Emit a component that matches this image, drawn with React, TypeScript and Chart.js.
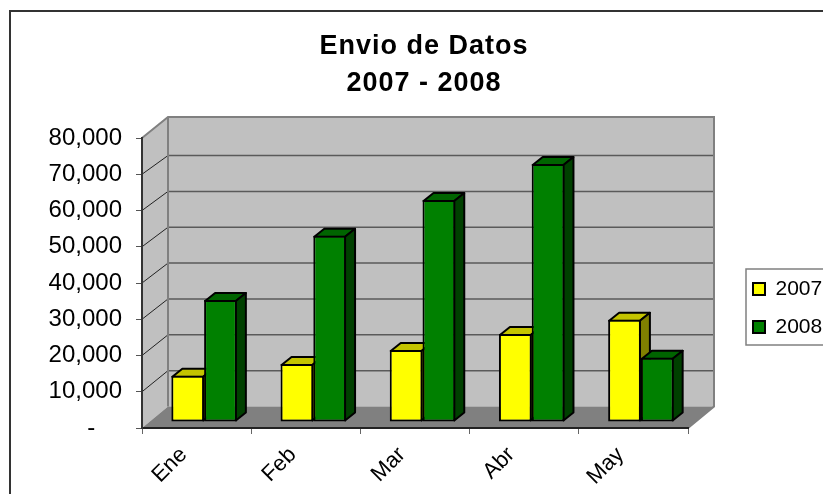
import React, { useEffect, useRef } from "react";
import { Chart, registerables } from "chart.js";

Chart.register(...registerables);

const categories = ["Ene", "Feb", "Mar", "Abr", "May"];
const values2007 = [12770, 16000, 19860, 24280, 28220];
const values2008 = [33660, 51390, 61240, 71170, 17740];
const yTickStep = 10000;
const yMax = 80000;

const FONT = "'Liberation Sans', Arial, sans-serif";
const WALL_DX = 26;
const WALL_DY = -21.5;
const WALL_TOP_DY = -21;
const BACK_SCALE = 0.989;
const BAR_SHIFT_X = 7.5;
const BAR_SHIFT_Y = -6;
const BAR_DX = 10;
const BAR_DY = -8;

const shades = [
  { top: "#c4c400", side: "#808000" },
  { top: "#006400", side: "#004000" },
];

function poly(ctx: CanvasRenderingContext2D, pts: number[][], fill: string, stroke?: string, lw = 2) {
  ctx.beginPath();
  pts.forEach((p, i) => (i ? ctx.lineTo(p[0], p[1]) : ctx.moveTo(p[0], p[1])));
  ctx.closePath();
  ctx.fillStyle = fill;
  ctx.fill();
  if (stroke) {
    ctx.strokeStyle = stroke;
    ctx.lineWidth = lw;
    ctx.lineJoin = "round";
    ctx.stroke();
  }
}

const excelScene = {
  id: "excelScene",
  beforeLayout(chart: any) {
    const l = chart.legend;
    if (l && !l.__wrapped) {
      l.__wrapped = true;
      const fit = l.fit;
      l.fit = function () {
        fit.call(this);
        this.width = 135;
      };
    }
  },
  afterUpdate(chart: any) {
    const l = chart.legend;
    l.left = 736;
    l.right = 823;
    l.top = 261.5;
    l.bottom = 440;
    const t = chart.titleBlock;
    t.left = 25;
    t.right = 823;
    if (!t.__wrapped) {
      t.__wrapped = true;
      const draw = t.draw;
      t.draw = function () {
        const c = this.ctx;
        c.letterSpacing = "1px";
        draw.call(this);
        c.letterSpacing = "0px";
      };
    }
  },
  beforeDraw(chart: any) {
    const { ctx, scales } = chart;
    const { x, y } = scales;
    const L = x.left;
    const R = x.right;
    const y0 = y.getPixelForValue(0);
    const yT = y.getPixelForValue(yMax);
    const backBottom = y0 + WALL_DY;
    const backTop = yT + WALL_TOP_DY;
    ctx.save();
    // outer frame
    ctx.strokeStyle = "#333333";
    ctx.lineWidth = 2;
    ctx.beginPath();
    ctx.moveTo(10, 500);
    ctx.lineTo(10, 11);
    ctx.lineTo(823, 11);
    ctx.stroke();
    // side wall
    poly(ctx, [[L, yT], [L + WALL_DX, backTop], [L + WALL_DX, backBottom], [L, y0]], "#c0c0c0");
    // back wall
    poly(ctx, [[L + WALL_DX, backTop], [R + WALL_DX, backTop], [R + WALL_DX, backBottom], [L + WALL_DX, backBottom]], "#c0c0c0");
    // gridlines
    for (let v = yTickStep; v < yMax; v += yTickStep) {
      const py = y.getPixelForValue(v);
      const by = backBottom - (y0 - py) * BACK_SCALE;
      ctx.strokeStyle = "#5a5a5a";
      ctx.lineWidth = 1.5;
      ctx.beginPath();
      ctx.moveTo(L + WALL_DX, by);
      ctx.lineTo(R + WALL_DX, by);
      ctx.stroke();
      ctx.strokeStyle = "#222222";
      ctx.lineWidth = 1;
      ctx.beginPath();
      ctx.moveTo(L, py);
      ctx.lineTo(L + WALL_DX, by);
      ctx.stroke();
    }
    // floor
    poly(ctx, [[L, y0], [L + WALL_DX, backBottom], [R + WALL_DX, backBottom], [R, y0]], "#808080");
    // wall edges
    ctx.strokeStyle = "#808080";
    ctx.lineWidth = 2;
    ctx.beginPath();
    ctx.moveTo(L, yT);
    ctx.lineTo(L + WALL_DX, backTop);
    ctx.lineTo(R + WALL_DX, backTop);
    ctx.lineTo(R + WALL_DX, backBottom);
    ctx.lineTo(R, y0);
    ctx.moveTo(L + WALL_DX, backTop);
    ctx.lineTo(L + WALL_DX, backBottom);
    ctx.stroke();
    // legend frame
    ctx.strokeStyle = "#808080";
    ctx.lineWidth = 1.5;
    ctx.strokeRect(746, 269, 90, 76);
    ctx.restore();
  },
  beforeDatasetsDraw(chart: any) {
    const { ctx } = chart;
    ctx.save();
    ctx.translate(BAR_SHIFT_X, BAR_SHIFT_Y);
    // extruded faces, taken from the bars the library laid out
    [0, 1].forEach((d) => {
      chart.getDatasetMeta(d).data.forEach((bar: any) => {
        const { x, y, base, width } = bar.getProps(["x", "y", "base", "width"], true);
        const l = x - width / 2 + 1;
        const r = x + width / 2 - 1;
        const t = y + 1;
        const b = base - 1;
        poly(ctx, [[l, t], [l + BAR_DX, t + BAR_DY], [r + BAR_DX, t + BAR_DY], [r, t]], shades[d].top, "#000000");
        poly(ctx, [[r, t], [r + BAR_DX, t + BAR_DY], [r + BAR_DX, b + BAR_DY], [r, b]], shades[d].side, "#000000");
      });
    });
  },
  afterDatasetsDraw(chart: any) {
    chart.ctx.restore();
  },
};

export default function App() {
  const ref = useRef<HTMLCanvasElement>(null);
  useEffect(() => {
    const chart = new Chart(ref.current as HTMLCanvasElement, {
      type: "bar",
      data: {
        labels: categories,
        datasets: [
          { label: "2007", data: values2007, backgroundColor: "#ffff00", borderColor: "#000000", borderWidth: 2, borderSkipped: false },
          { label: "2008", data: values2008, backgroundColor: "#008000", borderColor: "#000000", borderWidth: 2, borderSkipped: false },
        ],
      },
      options: {
        responsive: false,
        animation: false,
        events: [],
        layout: { padding: 0 },
        datasets: { bar: { categoryPercentage: 0.6, barPercentage: 1 } },
        scales: {
          x: {
            afterFit: (s: any) => { s.height = 66; },
            grid: { drawOnChartArea: false, drawTicks: true, tickLength: 6, color: "#666666", offset: true },
            border: { color: "#222222", width: 2 },
            ticks: {
              color: "#000000",
              font: { family: FONT, size: 22 },
              minRotation: 45,
              maxRotation: 45,
              padding: 8,
              labelOffset: -13,
              autoSkip: false,
            },
          },
          y: {
            min: 0,
            max: yMax,
            afterFit: (s: any) => { s.width = 142; },
            grid: { drawOnChartArea: false, drawTicks: true, tickLength: 6, color: "#555555" },
            border: { color: "#333333", width: 2 },
            ticks: {
              stepSize: yTickStep,
              color: "#000000",
              padding: 14,
              font: { family: FONT, size: 24 },
              callback: (v: any) => (v === 0 ? "-    " : Number(v).toLocaleString("en-US")),
            },
          },
        },
        plugins: {
          title: {
            display: true,
            text: ["Envio de Datos", "2007 - 2008"],
            color: "#000000",
            font: { family: FONT, size: 27, weight: "bold", lineHeight: 37 / 27 },
            padding: { top: 28.5, bottom: 35.5 },
          },
          legend: {
            display: true,
            position: "right",
            align: "start",
            labels: {
              color: "#000000",
              font: { family: FONT, size: 21 },
              boxWidth: 12,
              boxHeight: 12,
              padding: 17,
            },
          },
          tooltip: { enabled: false },
        },
      } as any,
      plugins: [excelScene],
    });
    return () => chart.destroy();
  }, []);
  return (
    <div style={{ position: "fixed", left: 0, top: 0, width: 823, height: 494, background: "#fff", overflow: "hidden" }}>
      <canvas ref={ref} width={823} height={494} style={{ display: "block" }} />
    </div>
  );
}
